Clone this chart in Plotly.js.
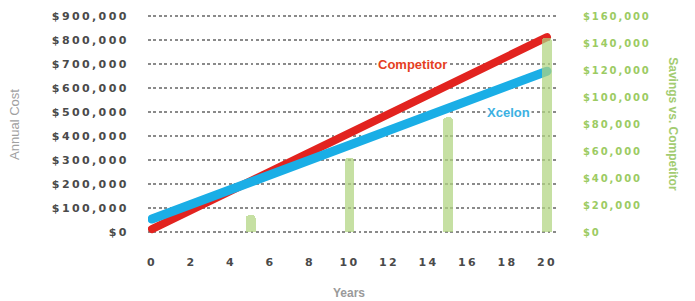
<!DOCTYPE html>
<html>
<head>
<meta charset="utf-8">
<script src="https://cdn.plot.ly/plotly-3.0.1.min.js"></script>
<style>
  html, body { margin: 0; padding: 0; background: #fff; }
  #chart { width: 695px; height: 301px; }
  .ytick text, .xtick text { letter-spacing: 2.4px; }
  .y2tick text { letter-spacing: 1.9px; }
  .scatterlayer path.js-line { stroke-linecap: round; }
</style>
</head>
<body>
<div id="chart"></div>
<script>
// ---- data ----
const years = [0, 20];
const competitor = [12000, 812000];
const xcelon = [54000, 670000];

const savingsYears = [5, 10, 15, 20];
const savings = [12600, 55000, 85000, 144000];

const xTickVals = [0, 2, 4, 6, 8, 10, 12, 14, 16, 18, 20];
const costTickVals = [0, 100000, 200000, 300000, 400000, 500000, 600000, 700000, 800000, 900000];
const costTickText = ["$0", "$100,000", "$200,000", "$300,000", "$400,000", "$500,000", "$600,000", "$700,000", "$800,000", "$900,000"];
const savingsTickVals = [0, 20000, 40000, 60000, 80000, 100000, 120000, 140000, 160000];
const savingsTickText = ["$0", "$20,000", "$40,000", "$60,000", "$80,000", "$100,000", "$120,000", "$140,000", "$160,000"];

// ---- traces ----
const traces = [
  {
    type: "bar", name: "Savings vs. Competitor",
    x: savingsYears, y: savings, yaxis: "y2",
    width: 0.5,
    marker: { color: "rgba(176,212,128,0.72)", cornerradius: 4 },
    hoverinfo: "skip"
  },
  {
    type: "scatter", mode: "lines", name: "Competitor",
    x: years, y: competitor,
    line: { color: "#e2231f", width: 8 }
  },
  {
    type: "scatter", mode: "lines", name: "Xcelon",
    x: years, y: xcelon,
    line: { color: "#1aaee6", width: 9 }
  }
];

const tickFontDark = { family: "DejaVu Sans", size: 11, color: "#4a4a4a", weight: 700 };

const layout = {
  width: 695, height: 301,
  margin: { l: 148, r: 137, t: 10, b: 63 },
  paper_bgcolor: "#ffffff", plot_bgcolor: "#ffffff",
  showlegend: false,
  bargap: 0,
  xaxis: {
    range: [-0.2, 20.56],
    tickvals: xTickVals,
    showgrid: false, zeroline: false, showline: false,
    ticks: "outside", ticklen: 14, tickcolor: "rgba(0,0,0,0)",
    tickfont: tickFontDark,
    fixedrange: true
  },
  yaxis: {
    range: [-25000, 925000],
    tickvals: costTickVals, ticktext: costTickText,
    showgrid: true, gridcolor: "#8a8a8a", gridwidth: 2.8, griddash: "2.8px,2.6px",
    zeroline: false, showline: false,
    ticks: "outside", ticklen: 16, tickcolor: "rgba(0,0,0,0)",
    tickfont: tickFontDark,
    fixedrange: true
  },
  yaxis2: {
    overlaying: "y", side: "right",
    range: [-4444, 164444],
    tickvals: savingsTickVals, ticktext: savingsTickText,
    showgrid: false, zeroline: false, showline: false,
    ticks: "outside", ticklen: 22, tickcolor: "rgba(0,0,0,0)",
    tickfont: { family: "DejaVu Sans", size: 10, color: "#9ccb63", weight: 700 },
    fixedrange: true
  },
  annotations: [
    { xref: "x", yref: "y", x: 13.2, y: 700000, text: "Competitor", showarrow: false,
      font: { family: "Liberation Sans", size: 13, color: "#e5401f", weight: 700 },
      bgcolor: "#ffffff", borderpad: 1 },
    { xref: "x", yref: "y", x: 18.05, y: 500000, text: "Xcelon", showarrow: false,
      font: { family: "Liberation Sans", size: 13, color: "#3cb1e2", weight: 700 },
      bgcolor: "#ffffff", borderpad: 1 },
    { xref: "paper", yref: "paper", x: -0.327, y: 0.5, text: "Annual Cost", showarrow: false,
      textangle: -90, xanchor: "center", yanchor: "middle",
      font: { family: "Liberation Sans", size: 13, color: "#a0a0a0" } },
    { xref: "paper", yref: "paper", x: 1.28, y: 0.5, text: "Savings vs. Competitor", showarrow: false,
      textangle: 90, xanchor: "center", yanchor: "middle",
      font: { family: "Liberation Sans", size: 12, color: "#a3cc72", weight: 700 } },
    { xref: "paper", yref: "paper", x: 0.49, y: -0.243, text: "Years", showarrow: false,
      xanchor: "center", yanchor: "middle",
      font: { family: "Liberation Sans", size: 12, color: "#9a9a9a", weight: 700 } }
  ]
};

Plotly.newPlot("chart", traces, layout, { displayModeBar: false, staticPlot: true });
</script>
</body>
</html>
